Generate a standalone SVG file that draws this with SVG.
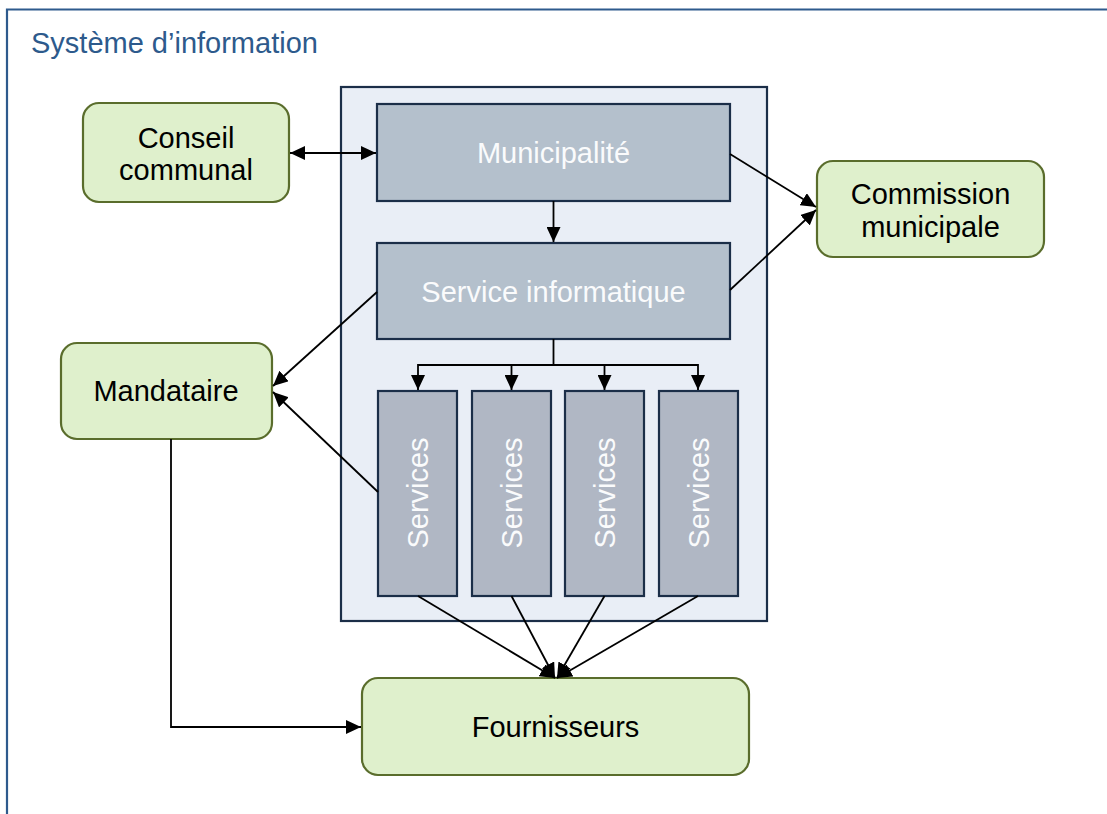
<svg xmlns="http://www.w3.org/2000/svg" width="1107" height="814" viewBox="0 0 1107 814">
<style>
.t{font-family:"Liberation Sans",Arial,sans-serif;font-size:29px;text-anchor:middle}
.dark{fill:#000}
.light{fill:#fafbfc}
.green{fill:#dff0cc;stroke:#5a6d2c;stroke-width:2.2}
.gray{fill:#b4c0cc;stroke:#1b2e48;stroke-width:2.2}
.svc{fill:#b0b7c4;stroke:#1b2e48;stroke-width:2.2}
.c{fill:none;stroke:#000;stroke-width:1.8}
</style>
<defs>
<marker id="ah" markerUnits="userSpaceOnUse" markerWidth="16" markerHeight="14" refX="15" refY="7" orient="auto-start-reverse" viewBox="0 0 16 14">
<path d="M0,0 L15,7 L0,14 z" fill="#000"/>
</marker>
</defs>
<rect width="1107" height="814" fill="#fff"/>
<g id="frame">
<path d="M7,814 V9.5 H1107" fill="none" stroke="#2e5a8d" stroke-width="2.2"/>
<text x="31" y="53" style="font-family:'Liberation Sans',Arial,sans-serif;font-size:29px;fill:#2d5a8c">Système d’information</text>
</g>
<g id="container">
<rect x="341" y="87" width="426" height="534" fill="#e9eef6" stroke="#1b2e48" stroke-width="2.2"/>
</g>
<g id="conseil">
<rect class="green" x="83" y="103" width="206" height="99" rx="16"/>
<text class="t dark" x="186" y="148">Conseil</text>
<text class="t dark" x="186" y="180">communal</text>
</g>
<g id="municipalite">
<rect class="gray" x="377" y="104" width="353" height="97"/>
<text class="t light" x="553.5" y="163">Municipalité</text>
</g>
<g id="service-informatique">
<rect class="gray" x="377" y="243" width="353" height="96"/>
<text class="t light" x="553.5" y="302">Service informatique</text>
</g>
<g id="commission">
<rect class="green" x="817" y="161" width="227" height="96" rx="16"/>
<text class="t dark" x="930.5" y="204">Commission</text>
<text class="t dark" x="930.5" y="237">municipale</text>
</g>
<g id="mandataire">
<rect class="green" x="61" y="343" width="211" height="96" rx="16"/>
<text class="t dark" x="166" y="401">Mandataire</text>
</g>
<g id="services-1">
<rect class="svc" x="378" y="391" width="79" height="205"/>
<text class="t light" transform="translate(428,493) rotate(-90)">Services</text>
</g>
<g id="services-2">
<rect class="svc" x="472" y="391" width="79" height="205"/>
<text class="t light" transform="translate(522,493) rotate(-90)">Services</text>
</g>
<g id="services-3">
<rect class="svc" x="565" y="391" width="79" height="205"/>
<text class="t light" transform="translate(615,493) rotate(-90)">Services</text>
</g>
<g id="services-4">
<rect class="svc" x="659" y="391" width="79" height="205"/>
<text class="t light" transform="translate(709,493) rotate(-90)">Services</text>
</g>
<g id="fournisseurs">
<rect class="green" x="362" y="678" width="387" height="97" rx="16"/>
<text class="t dark" x="555.5" y="737">Fournisseurs</text>
</g>
<g id="connectors">
<line class="c" x1="290" y1="153" x2="376" y2="153" marker-start="url(#ah)" marker-end="url(#ah)"/>
<line class="c" x1="553.5" y1="201" x2="553.5" y2="242" marker-end="url(#ah)"/>
<line class="c" x1="730" y1="154" x2="816" y2="207" marker-end="url(#ah)"/>
<line class="c" x1="730" y1="290" x2="816" y2="210" marker-end="url(#ah)"/>
<line class="c" x1="377" y1="292" x2="273" y2="386" marker-end="url(#ah)"/>
<line class="c" x1="378" y1="492" x2="273" y2="392" marker-end="url(#ah)"/>
<path class="c" d="M553.5,339 V365 M418,365 H698"/>
<line class="c" x1="418" y1="364" x2="418" y2="390" marker-end="url(#ah)"/>
<line class="c" x1="511.5" y1="364" x2="511.5" y2="390" marker-end="url(#ah)"/>
<line class="c" x1="604.5" y1="364" x2="604.5" y2="390" marker-end="url(#ah)"/>
<line class="c" x1="698" y1="364" x2="698" y2="390" marker-end="url(#ah)"/>
<path class="c" d="M171,439 V727 H361" marker-end="url(#ah)"/>
<line class="c" x1="418" y1="596" x2="555" y2="678" marker-end="url(#ah)"/>
<line class="c" x1="511.5" y1="596" x2="555" y2="678" marker-end="url(#ah)"/>
<line class="c" x1="604.5" y1="596" x2="557" y2="678" marker-end="url(#ah)"/>
<line class="c" x1="698" y1="596" x2="557" y2="678" marker-end="url(#ah)"/>
</g>
</svg>
